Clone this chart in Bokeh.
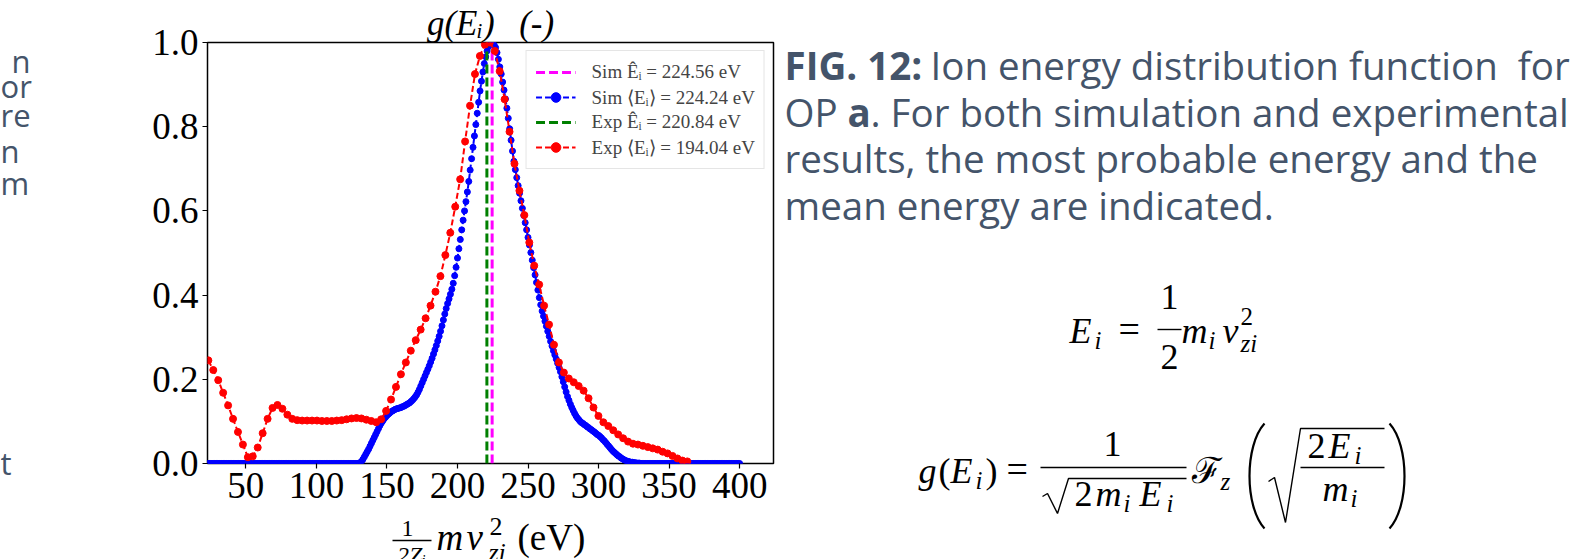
from bokeh.plotting import figure
from bokeh.models import Range1d, FixedTicker, Legend, LegendItem, PrintfTickFormatter
from bokeh.layouts import row, column
from bokeh.embed import file_html
from bokeh.resources import INLINE
from bokeh.core.properties import value

# ---------------- data ----------------
x_ticks = [50, 100, 150, 200, 250, 300, 350, 400]
y_ticks = [0.0, 0.2, 0.4, 0.6, 0.8, 1.0]
x_lim = (22.8, 424.0)
y_lim = (0.0, 1.0)

sim_peak_E = 224.56
sim_mean_E = 224.24
exp_peak_E = 220.84
exp_mean_E = 194.04

# simulation g(E), sampled every 1 eV from 22 to 400 eV
sim_E = list(range(22, 401))
sim_g = ([0.0] * 109 + [
    0.002, 0.005, 0.010, 0.016, 0.022, 0.028, 0.034, 0.041, 0.048, 0.055,
    0.062, 0.069, 0.076, 0.083, 0.090, 0.096, 0.101, 0.106, 0.110, 0.114,
    0.117, 0.120, 0.123, 0.125, 0.127, 0.129, 0.130, 0.131, 0.132, 0.133,
    0.135, 0.136, 0.138, 0.140, 0.142, 0.144, 0.147, 0.150, 0.154, 0.158,
    0.163, 0.169, 0.176, 0.184, 0.192, 0.200, 0.208, 0.216, 0.224, 0.232,
    0.241, 0.250, 0.260, 0.270, 0.280, 0.291, 0.302, 0.314, 0.327, 0.341,
    0.355, 0.368, 0.380, 0.391, 0.402, 0.414, 0.428, 0.446, 0.466, 0.488,
    0.510, 0.532, 0.555, 0.578, 0.600, 0.622, 0.645, 0.670, 0.697, 0.724,
    0.751, 0.778, 0.805, 0.832, 0.858, 0.885, 0.908, 0.930, 0.950, 0.966,
    0.980, 0.990, 0.996, 1.000, 0.998, 0.994, 0.988, 0.976, 0.960, 0.942,
    0.925, 0.906, 0.887, 0.866, 0.844, 0.820, 0.795, 0.768, 0.742, 0.718,
    0.698, 0.679, 0.660, 0.642, 0.624, 0.606, 0.589, 0.572, 0.555, 0.537,
    0.519, 0.501, 0.483, 0.465, 0.448, 0.430, 0.412, 0.394, 0.377, 0.362,
    0.350, 0.338, 0.326, 0.314, 0.302, 0.290, 0.279, 0.268, 0.258, 0.248,
    0.238, 0.228, 0.218, 0.206, 0.194, 0.182, 0.170, 0.159, 0.150, 0.141,
    0.133, 0.126, 0.119, 0.113, 0.108, 0.104, 0.100, 0.097, 0.095, 0.092,
    0.090, 0.087, 0.085, 0.082, 0.080, 0.077, 0.075, 0.072, 0.069, 0.067,
    0.064, 0.061, 0.057, 0.054, 0.050, 0.046, 0.042, 0.038, 0.034, 0.030,
    0.027, 0.024, 0.021, 0.018, 0.016, 0.013, 0.011, 0.009, 0.007, 0.006,
    0.005, 0.004, 0.003, 0.003, 0.002, 0.002, 0.001, 0.001, 0.001, 0.000,
] + [0.0] * 70)

# experimental g(E)
exp_E = [
    23.4, 26.9, 30.4, 33.9, 37.4, 40.9, 44.4, 47.9, 51.4, 54.9,
    58.4, 61.9, 65.4, 68.9, 72.4, 75.9, 79.4, 82.9, 86.4, 89.9,
    93.4, 96.9, 100.4, 103.9, 107.4, 110.9, 114.4, 117.9, 121.4, 124.9,
    128.4, 131.9, 135.4, 138.9, 142.4, 145.9, 149.4, 152.9, 156.4, 159.9,
    163.4, 166.9, 170.4, 173.9, 177.4, 180.9, 184.4, 187.9, 191.4, 194.9,
    198.4, 201.9, 205.4, 208.9, 212.4, 215.9, 219.4, 222.9, 226.4, 229.9,
    233.4, 236.9, 240.4, 243.9, 247.4, 250.9, 254.4, 257.9, 261.4, 264.9,
    268.4, 271.9, 275.4, 278.9, 282.4, 285.9, 289.4, 292.9, 296.4, 299.9,
    303.4, 306.9, 310.4, 313.9, 317.4, 320.9, 324.4, 327.9, 331.4, 334.9,
    338.4, 341.9, 345.4, 348.9, 352.4, 355.9, 359.4, 362.9,
]
exp_g = [
    0.245, 0.222, 0.198, 0.168, 0.138, 0.106, 0.075, 0.045, 0.015, 0.017,
    0.038, 0.072, 0.106, 0.132, 0.139, 0.130, 0.116, 0.106, 0.103, 0.102,
    0.102, 0.102, 0.102, 0.101, 0.101, 0.101, 0.102, 0.103, 0.105, 0.107,
    0.108, 0.107, 0.104, 0.101, 0.098, 0.105, 0.125, 0.152, 0.182, 0.212,
    0.240, 0.268, 0.293, 0.318, 0.345, 0.375, 0.408, 0.445, 0.495, 0.548,
    0.610, 0.675, 0.765, 0.850, 0.925, 0.968, 0.995, 1.000, 0.980, 0.932,
    0.865, 0.788, 0.712, 0.648, 0.590, 0.525, 0.470, 0.425, 0.375, 0.330,
    0.282, 0.240, 0.216, 0.202, 0.193, 0.184, 0.173, 0.155, 0.133, 0.113,
    0.098, 0.089, 0.079, 0.069, 0.060, 0.052, 0.047, 0.045, 0.042, 0.039,
    0.036, 0.033, 0.028, 0.024, 0.018, 0.012, 0.007, 0.005,
]

chart_title = "g(E\u1d62)\u2002\u2009(-)"
legend_labels = [
    "Sim \u00ca\u1d62 = %.2f eV" % sim_peak_E,
    "Sim \u27e8E\u1d62\u27e9 = %.2f eV" % sim_mean_E,
    "Exp \u00ca\u1d62 = %.2f eV" % exp_peak_E,
    "Exp \u27e8E\u1d62\u27e9 = %.2f eV" % exp_mean_E,
]

caption_lines = [
    [("FIG. 12:", "bold"), ("\u00a0Ion energy distribution function\u00a0 for", "normal")],
    [("OP", "normal"), ("a", "bold"), (". For both simulation and experimental", "normal")],
    [("results, the most probable energy and the", "normal")],
    [("mean energy are indicated.", "normal")],
]
left_fragments = ["n", "or", "re", "n", "m", "t"]

# ---------------- style / layout (all page pixel coordinates) ----------------
SERIF = "Liberation Serif"
SANS = "Open Sans"
SLATE = "#44546A"
W_PAGE, H_PAGE = 1578, 559
W_LEFT = 60                 # strip with cut-off text of the previous column
W_MID = 723                 # chart column
W_RIGHT = W_PAGE - W_LEFT - W_MID
H_TOP, H_MAIN = 1, 508
H_XLAB = H_PAGE - H_TOP - H_MAIN
B_LEFT, B_RIGHT = 147, 10   # chart borders -> frame x 207..773
B_TOP = 40                  # title panel sets the frame top near page y 43
B_BOTTOM = 46               # frame bottom at page y 463
FR_X0 = W_LEFT + B_LEFT
FR_X1 = W_LEFT + W_MID - B_RIGHT
BASE_SHIFT = 0.33           # svg text baseline correction (fraction of font size)


def canvas(width, height, x0, x1, y0, y1, bl=0, br=0):
    f = figure(width=width, height=height, x_range=Range1d(x0, x1), y_range=Range1d(y1, y0),
               output_backend="svg", toolbar_location=None, title=None,
               x_axis_location=None, y_axis_location=None,
               min_border_left=bl, min_border_right=br, min_border_top=0, min_border_bottom=0)
    f.grid.visible = False
    f.outline_line_color = None
    f.background_fill_color = "white"
    f.border_fill_color = "white"
    return f


def txt(f, x, y, t, size, style="normal", font=SERIF, color="black", align="left", baseline="alphabetic"):
    if baseline == "alphabetic":
        y = y - BASE_SHIFT * size
    f.text(x=[x], y=[y], text=[t], text_font=value(font), text_font_style=style,
           text_font_size="%.1fpx" % size, text_color=color, text_align=align, text_baseline=baseline)


# ---- main chart ----
p = figure(width=W_MID, height=H_MAIN, x_range=Range1d(*x_lim), y_range=Range1d(*y_lim),
           output_backend="svg", toolbar_location=None, title=chart_title,
           min_border_left=B_LEFT, min_border_right=B_RIGHT, min_border_top=B_TOP,
           min_border_bottom=B_BOTTOM)
p.title.align = "center"
p.title.text_font = SERIF
p.title.text_font_style = "italic"
p.title.text_font_size = "35px"
p.title.text_color = "black"
p.title.standoff = 0
p.background_fill_color = "white"
p.border_fill_color = "white"
p.grid.visible = False
p.outline_line_color = "black"
p.outline_line_width = 1.5
p.xaxis.ticker = FixedTicker(ticks=x_ticks)
p.yaxis.ticker = FixedTicker(ticks=y_ticks)
p.yaxis.formatter = PrintfTickFormatter(format="%.1f")
for ax in (p.xaxis, p.yaxis):
    ax.axis_line_color = None
    ax.major_tick_line_color = "black"
    ax.major_tick_line_width = 1.2
    ax.major_tick_out = 5
    ax.major_tick_in = 0
    ax.minor_tick_line_color = None
    ax.major_label_text_font = SERIF
    ax.major_label_text_font_size = "37px"
    ax.major_label_text_color = "black"
    ax.major_label_standoff = 4

y0, y1 = y_lim
r_mag = p.segment(x0=[sim_peak_E], y0=[y0], x1=[sim_peak_E], y1=[y1],
                  line_color="#ff00ff", line_width=3, line_dash="9 4")
r_bl = p.line(sim_E, sim_g, line_color="#0000ff", line_width=2, line_dash="6 3")
r_bs = p.scatter(sim_E, sim_g, marker="circle", size=6, fill_color="#0000ff", line_color="#0000ff")
r_grn = p.segment(x0=[exp_peak_E], y0=[y0], x1=[exp_peak_E], y1=[y1],
                  line_color="#008000", line_width=3, line_dash="9 4")
r_rl = p.line(exp_E, exp_g, line_color="#ff0000", line_width=2, line_dash="6 3")
r_rs = p.scatter(exp_E, exp_g, marker="circle", size=7, fill_color="#ff0000", line_color="#ff0000")

legend = Legend(items=[
    LegendItem(label=legend_labels[0], renderers=[r_mag]),
    LegendItem(label=legend_labels[1], renderers=[r_bl, r_bs]),
    LegendItem(label=legend_labels[2], renderers=[r_grn]),
    LegendItem(label=legend_labels[3], renderers=[r_rl, r_rs]),
], location="top_right", margin=8, padding=9, spacing=1, label_height=24, glyph_height=24,
    glyph_width=40, label_standoff=16, label_text_font=SERIF, label_text_font_size="19px",
    border_line_color="#cccccc", border_line_width=1, background_fill_alpha=0.85)
p.add_layout(legend)

# ---- thin top strip (keeps the chart column aligned) ----
t_fig = canvas(W_MID, H_TOP, FR_X0, FR_X1, 0, H_TOP, B_LEFT, B_RIGHT)

# ---- x label strip  1/(2Z_i) m v_zi^2 (eV) ----
y_top = H_TOP + H_MAIN
x_fig = canvas(W_MID, H_XLAB, FR_X0, FR_X1, y_top, H_PAGE, B_LEFT, B_RIGHT)
txt(x_fig, 407, 536, "1", 24, align="center")
x_fig.segment(x0=[392], y0=[540], x1=[431], y1=[540], line_color="black", line_width=1.3)
txt(x_fig, 411, 562, "2Z\u1d62", 24, "italic", align="center")
txt(x_fig, 436, 549, "m", 37, "italic")
txt(x_fig, 466, 549, "v", 37, "italic")
txt(x_fig, 489, 535, "2", 26)
txt(x_fig, 488, 561, "zi", 26, "italic")
txt(x_fig, 517, 549, "(eV)", 37)

# ---- left strip (text of the neighbouring column, cut by the screenshot edge) ----
l_fig = canvas(W_LEFT, H_PAGE, 0, W_LEFT, 0, H_PAGE)
left_pos = [(11, 70.5), (0, 96), (0, 124.5), (0, 161), (0, 192.5), (0, 473)]
for (lx, ly), t in zip(left_pos, left_fragments):
    txt(l_fig, lx, ly, t, 31, font=SANS, color=SLATE)

# ---- right panel: caption + formulas ----
XR0 = W_LEFT + W_MID
q = canvas(W_RIGHT, H_PAGE, XR0, W_PAGE, 0, H_PAGE)
cap_y = [64.5, 111.5, 157.5, 204.5]
cap_x = [[784, 920], [784, 847, 870], [784], [784]]
for ly, xs, pieces in zip(cap_y, cap_x, caption_lines):
    for cx, (t, st) in zip(xs, pieces):
        txt(q, cx, ly, t, 38.5, st, font=SANS, color=SLATE, baseline="middle")

# E_i = 1/2 m_i v_zi^2
b1 = 342
txt(q, 1069, b1, "E", 36, "italic")
txt(q, 1094, b1 + 6, "i", 25, "italic")
txt(q, 1118, b1 - 1, "=", 38)
txt(q, 1169, 308, "1", 36, align="center")
q.segment(x0=[1157], y0=[329], x1=[1181], y1=[329], line_color="black", line_width=1.4)
txt(q, 1169, 368, "2", 36, align="center")
txt(q, 1181, b1, "m", 36, "italic")
txt(q, 1208, b1 + 6, "i", 25, "italic")
txt(q, 1222, b1, "v", 36, "italic")
txt(q, 1240, 324, "2", 25)
txt(q, 1240, b1 + 9, "zi", 25, "italic")

# g(E_i) = 1/sqrt(2 m_i E_i) F_z( sqrt(2E_i/m_i) )
b2 = 482
ax2 = 467
txt(q, 918, b2, "g", 36, "italic")
txt(q, 938, b2, "(", 36)
txt(q, 950, b2, "E", 36, "italic")
txt(q, 975, b2 + 6, "i", 25, "italic")
txt(q, 985, b2, ")", 36)
txt(q, 1006, b2 - 1, "=", 38)
q.segment(x0=[1040], y0=[ax2], x1=[1186], y1=[ax2], line_color="black", line_width=1.4)
txt(q, 1112, 455, "1", 36, align="center")
q.line(x=[1042, 1047, 1057, 1068, 1186], y=[496, 493, 513, 478, 478], line_color="black", line_width=1.4)
txt(q, 1074, 505, "2", 36)
txt(q, 1095, 505, "m", 36, "italic")
txt(q, 1123, 511, "i", 25, "italic")
txt(q, 1139, 505, "E", 36, "italic")
txt(q, 1166, 511, "i", 25, "italic")
txt(q, 1191, b2, "\u2131", 36)
txt(q, 1220, b2 + 7, "z", 25, "italic")
q.bezier(x0=[1264], y0=[423], x1=[1264], y1=[528], cx0=[1244], cy0=[445], cx1=[1244], cy1=[506],
         line_color="black", line_width=2.2)
q.line(x=[1268, 1274, 1285, 1300, 1384], y=[481, 477, 522, 428, 428], line_color="black", line_width=1.4)
q.segment(x0=[1300], y0=[ax2], x1=[1384], y1=[ax2], line_color="black", line_width=1.4)
txt(q, 1307, 457, "2", 36)
txt(q, 1328, 457, "E", 36, "italic")
txt(q, 1354, 463, "i", 25, "italic")
txt(q, 1322, 500, "m", 36, "italic")
txt(q, 1350, 506, "i", 25, "italic")
q.bezier(x0=[1389], y0=[423], x1=[1389], y1=[528], cx0=[1409], cy0=[445], cx1=[1409], cy1=[506],
         line_color="black", line_width=2.2)

layout = row(l_fig, column(t_fig, p, x_fig, spacing=0), q, spacing=0)
open("out.html", "w").write(file_html(layout, INLINE))
